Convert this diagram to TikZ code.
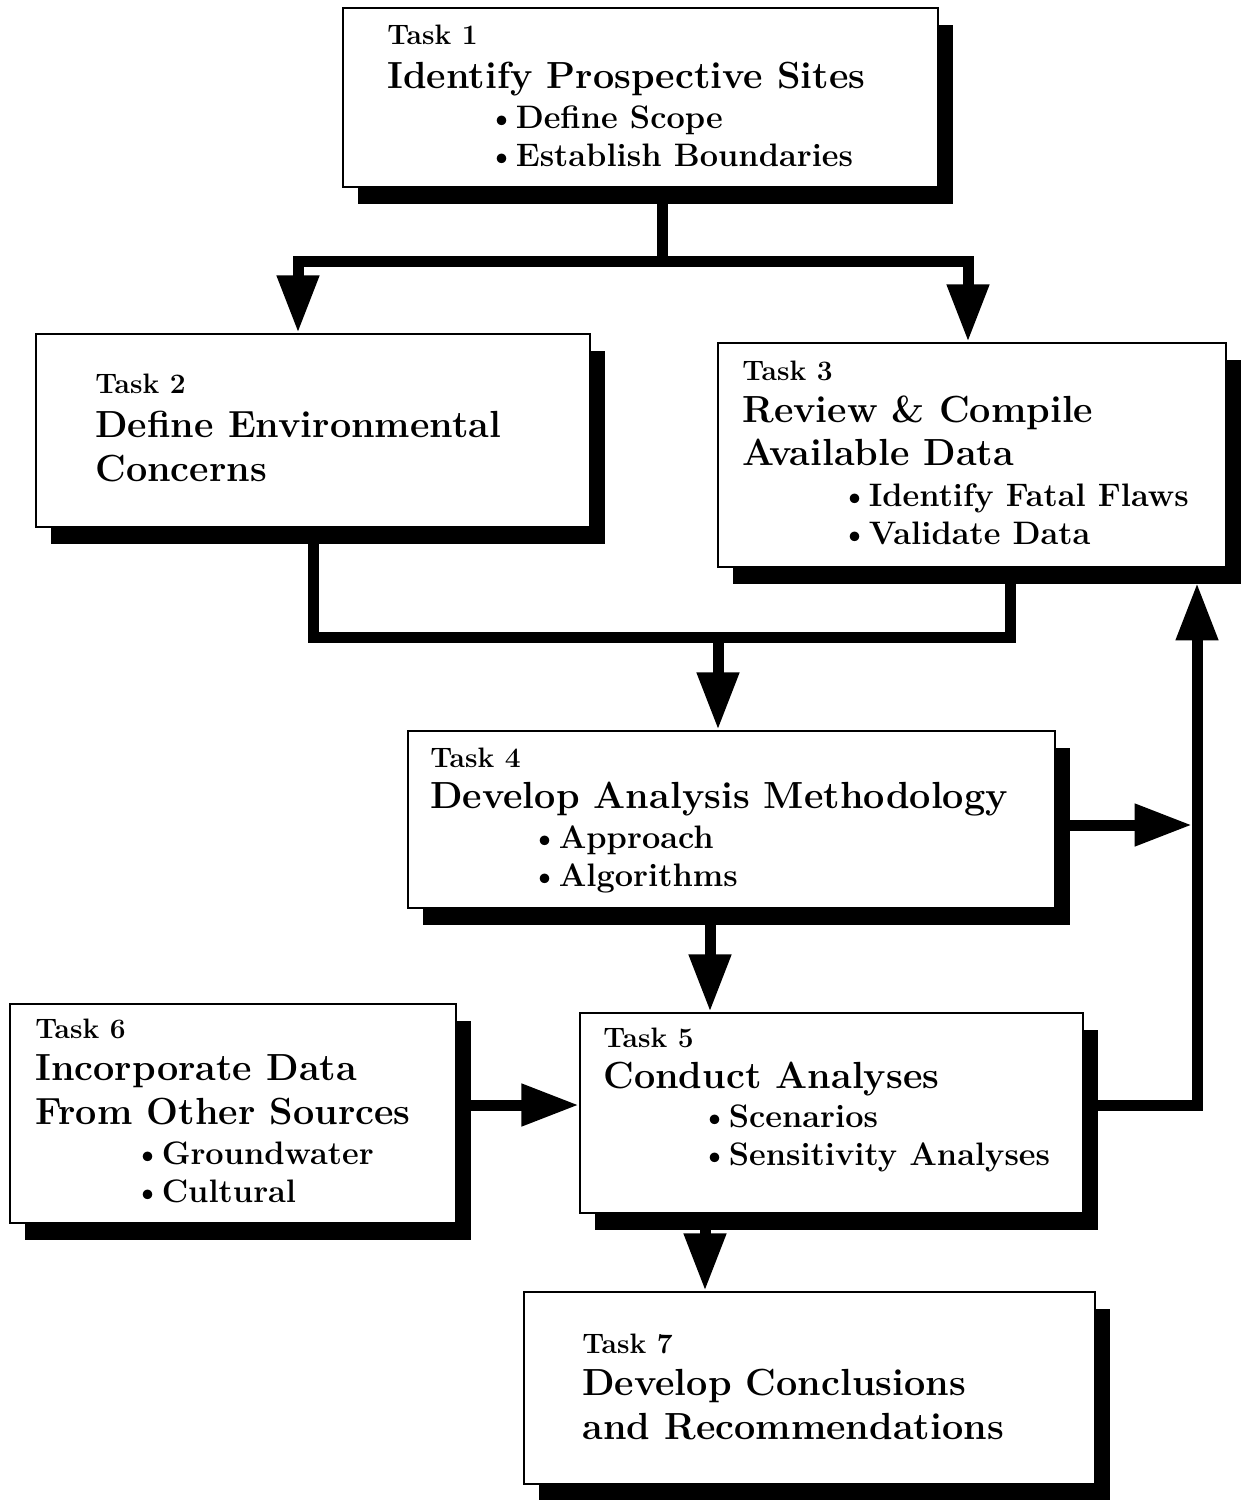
\documentclass[tikz,border=0pt]{standalone}
\usetikzlibrary{arrows.meta,shadows}
\begin{document}
\begin{tikzpicture}[
x=0.02cm, y=-0.02cm,
box/.style={draw, line width=1.4pt, fill=white, inner sep=0pt,
  drop shadow={shadow xshift=0.3cm, shadow yshift=-0.34cm, fill=black, opacity=1}},
lab/.style={anchor=north west, inner sep=0pt, font=\fontsize{16}{18}\selectfont\bfseries},
ttl/.style={anchor=north west, inner sep=0pt, align=left, font=\fontsize{21.5}{25}\selectfont\bfseries},
blt/.style={anchor=north west, inner sep=0pt, align=left, font=\fontsize{18.5}{21.5}\selectfont\bfseries},
link/.style={line width=0.22cm, line join=miter},
arrow/.style={link, -{Triangle[length=1.15cm, width=0.8cm]}}
]
\useasboundingbox (0,0) rectangle (1243,1500);

% boxes
\node[box, minimum width=11.9cm, minimum height=3.58cm] (t1) at (640.5,97.5) {};
\node[box, minimum width=11.08cm, minimum height=3.86cm] (t2) at (313,430.5) {};
\node[box, minimum width=10.16cm, minimum height=4.48cm] (t3) at (972,455) {};
\node[box, minimum width=12.94cm, minimum height=3.54cm] (t4) at (731.5,819.5) {};
\node[box, minimum width=8.92cm, minimum height=4.38cm] (t6) at (233,1113.5) {};
\node[box, minimum width=10.06cm, minimum height=4cm] (t5) at (831.5,1113) {};
\node[box, minimum width=11.42cm, minimum height=3.84cm] (t7) at (809.5,1388) {};

% texts
\node[lab] (t1l) at (387,24.5) {Task 1};
\node[ttl] (t1t) at (387,62) {Identify Prospective Sites};
\node[blt] (t1b) at (487,105.5) {\textbullet Define Scope\\\textbullet Establish Boundaries};

\node[lab] (t2l) at (95,373.5) {Task 2};
\node[ttl] (t2t) at (95,411) {Define Environmental\\Concerns};

\node[lab] (t3l) at (742,360.5) {Task 3};
\node[ttl] (t3t) at (742,395) {Review \& Compile\\Available Data};
\node[blt] (t3b) at (840,483.5) {\textbullet Identify Fatal Flaws\\\textbullet Validate Data};

\node[lab] (t4l) at (430,747.5) {Task 4};
\node[ttl] (t4t) at (430,782) {Develop Analysis Methodology};
\node[blt] (t4b) at (530,825.5) {\textbullet Approach\\\textbullet Algorithms};

\node[lab] (t6l) at (35,1018.5) {Task 6};
\node[ttl] (t6t) at (35,1054) {Incorporate Data\\From Other Sources};
\node[blt] (t6b) at (133,1141.5) {\textbullet Groundwater\\\textbullet Cultural};

\node[lab] (t5l) at (603,1027.5) {Task 5};
\node[ttl] (t5t) at (603,1062) {Conduct Analyses};
\node[blt] (t5b) at (700,1104.5) {\textbullet Scenarios\\\textbullet Sensitivity Analyses};

\node[lab] (t7l) at (582,1333.5) {Task 7};
\node[ttl] (t7t) at (582,1369) {Develop Conclusions\\and Recommendations};

% junctions
\coordinate (j1) at (662,262);
\coordinate (a2) at (298,262);
\coordinate (a3) at (968,262);
\coordinate (j4) at (718,637);
\coordinate (b3) at (1010,637);
\coordinate (c45) at (710,0);
\coordinate (c65) at (0,1105);
\coordinate (c57) at (705,0);
\coordinate (r4) at (1192,825);
\coordinate (r5) at (1197,1105);
\coordinate (r3) at (1197,583);

% connectors
\draw[link] (t1.south -| j1) -- (j1);
\draw[arrow] (j1) -| (t2.north -| a2);
\draw[arrow] (j1) -| (t3.north -| a3);
\draw[link] (t2.south) |- (b3) -- (b3 |- t3.south);
\draw[arrow] (j4) -- (j4 |- t4.north);
\draw[arrow] (t4.south -| c45) -- (c45 |- t5.north);
\draw[arrow] (t6.east |- c65) -- (t5.west |- c65);
\draw[arrow] (t5.south -| c57) -- (c57 |- t7.north);
\draw[arrow] (t4.east |- r4) -- (r4);
\draw[arrow] (t5.east |- r5) -| (r3);
\end{tikzpicture}
\end{document}
